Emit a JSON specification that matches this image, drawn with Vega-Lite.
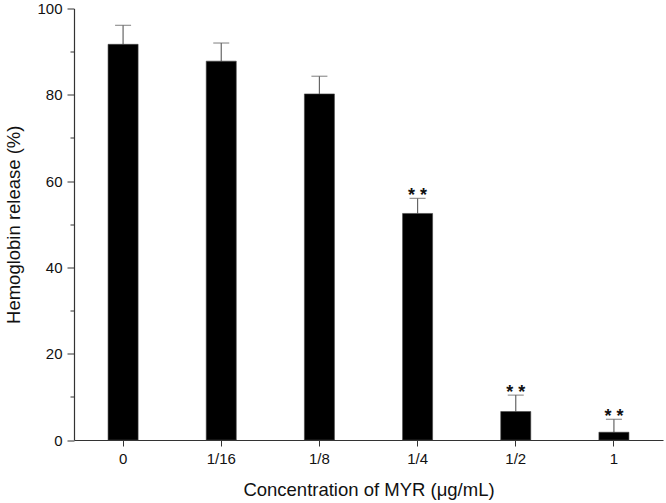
{
  "$schema": "https://vega.github.io/schema/vega-lite/v6.json",
  "autosize": {"type": "none"},
  "width": 589,
  "height": 431.5,
  "padding": {"left": 74, "top": 8.5, "right": 3, "bottom": 63},
  "background": "white",
  "config": {
    "view": {"stroke": null},
    "font": "Liberation Sans",
    "axis": {"grid": false, "domainColor": "#333", "tickColor": "#333", "labelColor": "#111", "titleColor": "#111", "labelFont": "Liberation Sans", "titleFont": "Liberation Sans", "titleFontWeight": "normal"}
  },
  "data": {
    "values": [
      {"conc": "0", "mean": 91.7, "err": 96.1, "sig": ""},
      {"conc": "1/16", "mean": 87.8, "err": 92.0, "sig": ""},
      {"conc": "1/8", "mean": 80.2, "err": 84.3, "sig": ""},
      {"conc": "1/4", "mean": 52.5, "err": 56.0, "sig": "* *"},
      {"conc": "1/2", "mean": 6.6, "err": 10.4, "sig": "* *"},
      {"conc": "1", "mean": 1.8, "err": 4.8, "sig": "* *"}
    ]
  },
  "encoding": {
    "x": {
      "field": "conc", "type": "nominal", "sort": null,
      "scale": {"paddingInner": 0.694, "paddingOuter": 0.347},
      "axis": {"title": "Concentration of MYR (μg/mL)", "labelAngle": 0, "labelFontSize": 15, "titleFontSize": 18.5, "tickSize": 6, "labelPadding": 5, "titlePadding": 14, "domainWidth": 1.2}
    }
  },
  "layer": [
    {
      "mark": {"type": "rule", "color": "#666", "strokeWidth": 1.2},
      "encoding": {
        "y": {"field": "mean", "type": "quantitative"},
        "y2": {"field": "err"}
      }
    },
    {
      "mark": {"type": "tick", "color": "#666", "size": 16, "thickness": 1.2},
      "encoding": {
        "y": {"field": "err", "type": "quantitative"}
      }
    },
    {
      "mark": {"type": "bar", "color": "black", "stroke": "#444", "strokeWidth": 0.6},
      "encoding": {
        "y": {
          "field": "mean", "type": "quantitative",
          "scale": {"domain": [0, 100], "nice": false},
          "axis": {
            "title": "Hemoglobin release (%)",
            "values": [0, 10, 20, 30, 40, 50, 60, 70, 80, 90, 100],
            "labelExpr": "datum.value % 20 === 0 ? datum.label : ''",
            "tickSize": {"condition": {"test": "datum.value % 20 === 0", "value": 7}, "value": 4},
            "labelFontSize": 15, "titleFontSize": 18.5, "labelPadding": 5, "titlePadding": 13, "domainWidth": 1.2
          }
        }
      }
    },
    {
      "mark": {"type": "text", "fontSize": 18, "fontWeight": "bold", "dy": 3, "baseline": "alphabetic", "color": "#111"},
      "encoding": {
        "y": {"field": "err", "type": "quantitative"},
        "text": {"field": "sig"}
      }
    }
  ]
}
